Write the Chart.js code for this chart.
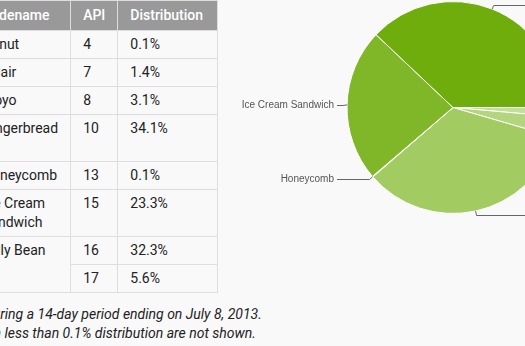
<!DOCTYPE html>
<html>
<head>
<meta charset="utf-8">
<script src="https://cdn.jsdelivr.net/npm/chart.js@4.4.1/dist/chart.umd.min.js"></script>
<style>
  html, body {
    margin: 0;
    width: 525px;
    height: 346px;
    overflow: hidden;
    background: #f9f9f9;
    font-family: Roboto, sans-serif;
    color: #222;
  }
  #dist-table {
    position: absolute;
    top: 0;
    left: -131px;
    border-collapse: collapse;
    table-layout: fixed;
    font-size: 14px;
    line-height: 19px;
  }
  #dist-table th {
    background: #999;
    color: #fff;
    font-weight: 500;
    text-align: left;
    padding: 5px 12px;
    border: 1px solid #ddd;
  }
  #dist-table td {
    padding: 4px 12px;
    border: 1px solid #ddd;
    vertical-align: top;
    white-space: pre-line;
  }
  #note {
    position: absolute;
    top: 305px;
    left: 0;
    margin: 0;
    font-size: 14px;
    line-height: 19px;
    font-style: italic;
    white-space: nowrap;
  }
  #pie-box {
    position: absolute;
    left: 230px;
    top: 0;
    width: 446px;
    height: 240px;
  }
</style>
</head>
<body>

<table id="dist-table">
  <colgroup>
    <col style="width:100px">
    <col style="width:101px">
    <col style="width:47px">
    <col style="width:100px">
  </colgroup>
  <thead>
    <tr><th>Version</th><th>Codename</th><th>API</th><th>Distribution</th></tr>
  </thead>
  <tbody id="result"></tbody>
</table>

<p id="note"><span id="note-pre">Data collected du</span>ring a 14-day period ending on July 8, 2013.<br>Any versions with less than 0.1% distribution are not shown.</p>

<div id="pie-box"><canvas id="pie"></canvas></div>

<script>
// table data
const versions = ['1.6', '2.1', '2.2', '2.3.3 -\n2.3.7', '3.2', '4.0.3 -\n4.0.4', '4.1.x', '4.2.x'];
const codenames = ['Donut', 'Eclair', 'Froyo', 'Gingerbread', 'Honeycomb', 'Ice Cream Sandwich', 'Jelly Bean', null];
const apiLevels = [4, 7, 8, 10, 13, 15, 16, 17];
const shares = ['0.1%', '1.4%', '3.1%', '34.1%', '0.1%', '23.3%', '32.3%', '5.6%'];

// pie data
const pieLabels = ['Eclair', 'Froyo', 'Gingerbread', 'Honeycomb', 'Ice Cream Sandwich', 'Jelly Bean'];
const pieValues = [1.4, 3.1, 34.1, 0.1, 23.3, 37.9];
const pieColors = ['#c4df9b', '#b3d57e', '#a2cb62', '#91c145', '#80b729', '#6fad0c'];

function drawTable() {
    let html = ``;
    for (let x = 0; x < versions.length; x++) {
        let nameCell = '';
        if (codenames[x] !== null) {
            let span = (x + 1 < codenames.length && codenames[x + 1] === null) ? ` rowspan="2"` : ``;
            nameCell = `<td${span}>${codenames[x]}</td>`;
        }
        html += `
      <tr>
        <td>${versions[x]}</td>
        ${nameCell}
        <td>${apiLevels[x]}</td>
        <td>${shares[x]}</td>
      </tr>`;
    }
    document.getElementById('result').innerHTML = html;
}

function placeNote() {
    const pre = document.getElementById('note-pre');
    document.getElementById('note').style.left = -pre.offsetWidth + 'px';
}

// labels with leader lines, placed from the arcs the library laid out
const leaderLabels = {
    id: 'leaderLabels',
    afterDatasetsDraw(chart) {
        const ctx = chart.ctx;
        const meta = chart.getDatasetMeta(0);
        ctx.save();
        ctx.strokeStyle = '#666';
        ctx.lineWidth = 1;
        ctx.fillStyle = '#555';
        ctx.font = '10px "Liberation Sans", Arial, sans-serif';
        ctx.textBaseline = 'middle';
        meta.data.forEach((arc, i) => {
            const p = arc.getProps(['x', 'y', 'startAngle', 'endAngle', 'outerRadius'], true);
            const mid = (p.startAngle + p.endAngle) / 2;
            const ex = p.x + Math.cos(mid) * p.outerRadius;
            const ey = p.y + Math.sin(mid) * p.outerRadius;
            const kx = p.x + Math.cos(mid) * (p.outerRadius + 4);
            const ky = Math.round(p.y + Math.sin(mid) * (p.outerRadius + 4)) + 0.5;
            const right = Math.cos(mid) >= 0;
            const lx = right ? p.x + p.outerRadius + 12 : p.x - p.outerRadius - 10;
            ctx.beginPath();
            ctx.moveTo(ex, ey);
            ctx.lineTo(kx, ky);
            ctx.lineTo(lx, ky);
            ctx.stroke();
            ctx.textAlign = right ? 'left' : 'right';
            ctx.fillText(pieLabels[i], right ? lx + 3 : lx - 3, ky);
        });
        ctx.restore();
    }
};

function pieChart() {
    const ctx = document.getElementById('pie').getContext('2d');
    const data = {
        labels: pieLabels,
        datasets: [{
            data: pieValues,
            backgroundColor: pieColors,
            borderColor: '#ffffff',
            borderWidth: 1,
            hoverOffset: 0,
        }]
    }
    let myPieChart = new Chart(ctx, {
        type: 'pie',
        data: data,
        options: {
            responsive: true,
            maintainAspectRatio: false,
            animation: false,
            rotation: 90,
            layout: { padding: { top: 1, bottom: 26, left: 0, right: 0 } },
            plugins: {
                legend: { display: false },
                tooltip: { enabled: false },
            },
        },
        plugins: [leaderLabels],
    })
}

drawTable();
placeNote();
pieChart();
</script>
</body>
</html>
